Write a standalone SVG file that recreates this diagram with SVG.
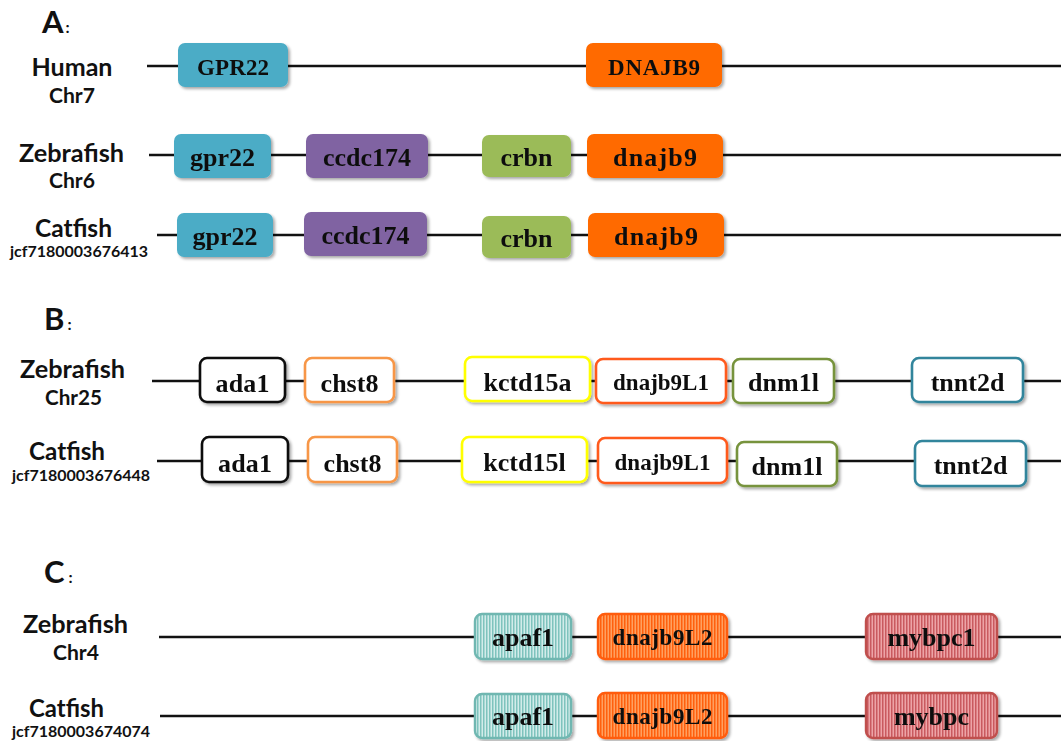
<svg xmlns="http://www.w3.org/2000/svg" width="1061" height="741" viewBox="0 0 1061 741">
<style>
.lbl{font-family:Lato,"Open Sans","Liberation Sans",sans-serif;font-weight:700;fill:#111;text-anchor:middle}
.big{font-size:25px}
.sm{font-size:20px}
.id{font-size:16px}
.ttl{font-family:Lato,"Open Sans","Liberation Sans",sans-serif;font-weight:700;fill:#111;font-size:31px}
.col{font-size:16px}
.g{font-family:"Liberation Serif","Times New Roman",serif;font-weight:700;fill:#111;text-anchor:middle;font-size:26px}
.g23{font-size:23px}
.chr{stroke:#111;stroke-width:2.6;fill:none}
.box{filter:url(#sh)}
.ob{fill:#fff;stroke-width:2.6}
</style>
<defs>
<filter id="sh" x="-10%" y="-20%" width="125%" height="150%">
<feGaussianBlur in="SourceAlpha" stdDeviation="1.6"/>
<feOffset dx="1.5" dy="2" result="o"/>
<feComponentTransfer><feFuncA type="linear" slope="0.35"/></feComponentTransfer>
<feMerge><feMergeNode/><feMergeNode in="SourceGraphic"/></feMerge>
</filter>
<pattern id="pTeal" width="3" height="10" patternUnits="userSpaceOnUse">
<rect width="3" height="10" fill="#D2ECEA"/><rect width="1.5" height="10" fill="#7EC3BD"/>
</pattern>
<pattern id="pOr" width="3" height="10" patternUnits="userSpaceOnUse">
<rect width="3" height="10" fill="#FFA060"/><rect width="1.5" height="10" fill="#FF6010"/>
</pattern>
<pattern id="pRed" width="3" height="10" patternUnits="userSpaceOnUse">
<rect width="3" height="10" fill="#EDA4A7"/><rect width="1.5" height="10" fill="#C95A5F"/>
</pattern>
</defs>
<rect width="1061" height="741" fill="#fff"/>

<!-- Titles and labels -->
<g id="titles">
<text class="ttl" x="42" y="33">A<tspan class="col" dx="2">:</tspan></text>
<text class="ttl" x="44" y="330">B<tspan class="col" dx="3">:</tspan></text>
<text class="ttl" x="44" y="583">C<tspan class="col" dx="4">:</tspan></text>
</g>
<g id="labels">
<text class="lbl big" x="72" y="76" textLength="81" lengthAdjust="spacingAndGlyphs">Human</text>
<text class="lbl sm" x="72" y="103" textLength="46" lengthAdjust="spacingAndGlyphs">Chr7</text>
<text class="lbl big" x="71.5" y="162" textLength="105" lengthAdjust="spacingAndGlyphs">Zebrafish</text>
<text class="lbl sm" x="72" y="188" textLength="46" lengthAdjust="spacingAndGlyphs">Chr6</text>
<text class="lbl big" x="73.5" y="237" textLength="77" lengthAdjust="spacingAndGlyphs">Catfish</text>
<text class="lbl id" x="79" y="257" textLength="138" lengthAdjust="spacingAndGlyphs">jcf7180003676413</text>

<text class="lbl big" x="72.5" y="378" textLength="105" lengthAdjust="spacingAndGlyphs">Zebrafish</text>
<text class="lbl sm" x="73.5" y="405" textLength="57" lengthAdjust="spacingAndGlyphs">Chr25</text>
<text class="lbl big" x="67" y="460" textLength="76" lengthAdjust="spacingAndGlyphs">Catfish</text>
<text class="lbl id" x="81" y="481" textLength="138" lengthAdjust="spacingAndGlyphs">jcf7180003676448</text>

<text class="lbl big" x="75.5" y="633" textLength="105" lengthAdjust="spacingAndGlyphs">Zebrafish</text>
<text class="lbl sm" x="76" y="660" textLength="46" lengthAdjust="spacingAndGlyphs">Chr4</text>
<text class="lbl big" x="66.5" y="717" textLength="75" lengthAdjust="spacingAndGlyphs">Catfish</text>
<text class="lbl id" x="81" y="737" textLength="138" lengthAdjust="spacingAndGlyphs">jcf7180003674074</text>
</g>

<!-- chromosome lines -->
<g id="connectors">
<line class="chr" x1="147" y1="66" x2="1061" y2="66"/>
<line class="chr" x1="149" y1="155" x2="1061" y2="155"/>
<line class="chr" x1="157" y1="235" x2="1061" y2="235"/>
<line class="chr" x1="152" y1="381" x2="1061" y2="381"/>
<line class="chr" x1="157" y1="461" x2="1061" y2="461"/>
<line class="chr" x1="159" y1="637" x2="1061" y2="637"/>
<line class="chr" x1="160" y1="716" x2="1061" y2="716"/>
</g>

<!-- Panel A -->
<g id="A-human-GPR22" class="box"><rect x="178" y="43" width="110" height="44" rx="7" fill="#4BACC6"/><text class="g g23" x="233" y="75" textLength="72">GPR22</text></g>
<g id="A-human-DNAJB9" class="box"><rect x="586" y="43" width="136" height="44" rx="7" fill="#FF6A00"/><text class="g g23" x="654" y="75" textLength="92">DNAJB9</text></g>

<g id="A-zf-gpr22" class="box"><rect x="174" y="134" width="97" height="44" rx="7" fill="#4BACC6"/><text class="g" x="222.5" y="166">gpr22</text></g>
<g id="A-zf-ccdc174" class="box"><rect x="306" y="134" width="122" height="44" rx="7" fill="#8064A2"/><text class="g" x="367" y="166">ccdc174</text></g>
<g id="A-zf-crbn" class="box"><rect x="482" y="135" width="89" height="42" rx="7" fill="#9BBB59"/><text class="g" x="526.5" y="166">crbn</text></g>
<g id="A-zf-dnajb9" class="box"><rect x="587" y="134" width="136" height="44" rx="7" fill="#FF6A00"/><text class="g" x="655" y="166" textLength="84">dnajb9</text></g>

<g id="A-cf-gpr22" class="box"><rect x="177" y="213" width="96" height="44" rx="7" fill="#4BACC6"/><text class="g" x="225" y="245">gpr22</text></g>
<g id="A-cf-ccdc174" class="box"><rect x="304" y="212" width="123" height="44" rx="7" fill="#8064A2"/><text class="g" x="365.5" y="244">ccdc174</text></g>
<g id="A-cf-crbn" class="box"><rect x="482" y="216" width="89" height="42" rx="7" fill="#9BBB59"/><text class="g" x="526.5" y="247">crbn</text></g>
<g id="A-cf-dnajb9" class="box"><rect x="588" y="213" width="136" height="44" rx="7" fill="#FF6A00"/><text class="g" x="656" y="245" textLength="84">dnajb9</text></g>

<!-- Panel B -->
<g id="B-zf-ada1" class="box"><rect class="ob" x="200" y="358" width="85" height="44" rx="7" stroke="#111"/><text class="g" x="242.5" y="392" textLength="54">ada1</text></g>
<g id="B-zf-chst8" class="box"><rect class="ob" x="305" y="358" width="89" height="44" rx="7" stroke="#F79646"/><text class="g" x="349.5" y="392">chst8</text></g>
<g id="B-zf-kctd15a" class="box"><rect class="ob" x="465" y="357" width="125" height="44" rx="7" stroke="#FFFF00"/><text class="g" x="527.5" y="391">kctd15a</text></g>
<g id="B-zf-dnajb9L1" class="box"><rect class="ob" x="596" y="359" width="130" height="44" rx="7" stroke="#FF5A1F"/><text class="g g23" x="661" y="390">dnajb9L1</text></g>
<g id="B-zf-dnm1l" class="box"><rect class="ob" x="733" y="359" width="101" height="44" rx="7" stroke="#77933C"/><text class="g" x="783.5" y="391">dnm1l</text></g>
<g id="B-zf-tnnt2d" class="box"><rect class="ob" x="912" y="358" width="111" height="44" rx="7" stroke="#31859C"/><text class="g" x="967.5" y="391">tnnt2d</text></g>

<g id="B-cf-ada1" class="box"><rect class="ob" x="202" y="437" width="86" height="45" rx="7" stroke="#111"/><text class="g" x="245" y="472" textLength="54">ada1</text></g>
<g id="B-cf-chst8" class="box"><rect class="ob" x="308" y="437" width="89" height="45" rx="7" stroke="#F79646"/><text class="g" x="352.5" y="472">chst8</text></g>
<g id="B-cf-kctd15l" class="box"><rect class="ob" x="462" y="437" width="125" height="45" rx="7" stroke="#FFFF00"/><text class="g" x="524.5" y="471">kctd15l</text></g>
<g id="B-cf-dnajb9L1" class="box"><rect class="ob" x="598" y="438" width="129" height="45" rx="7" stroke="#FF5A1F"/><text class="g g23" x="662.5" y="470">dnajb9L1</text></g>
<g id="B-cf-dnm1l" class="box"><rect class="ob" x="737" y="442" width="100" height="44" rx="7" stroke="#77933C"/><text class="g" x="787" y="475">dnm1l</text></g>
<g id="B-cf-tnnt2d" class="box"><rect class="ob" x="915" y="441" width="111" height="45" rx="7" stroke="#31859C"/><text class="g" x="970.5" y="474">tnnt2d</text></g>

<!-- Panel C -->
<g id="C-zf-apaf1" class="box"><rect x="475" y="614" width="96" height="45" rx="7" fill="url(#pTeal)" stroke="#6FB7B1" stroke-width="2.4"/><text class="g" x="523" y="646">apaf1</text></g>
<g id="C-zf-dnajb9L2" class="box"><rect x="598" y="614" width="129" height="45" rx="7" fill="url(#pOr)" stroke="#FF5B0F" stroke-width="2.4"/><text class="g g23" x="662.5" y="645" textLength="100">dnajb9L2</text></g>
<g id="C-zf-mybpc1" class="box"><rect x="866" y="614" width="131" height="45" rx="7" fill="url(#pRed)" stroke="#C0504D" stroke-width="2.4"/><text class="g" x="931.5" y="646">mybpc1</text></g>

<g id="C-cf-apaf1" class="box"><rect x="475" y="694" width="96" height="44" rx="7" fill="url(#pTeal)" stroke="#6FB7B1" stroke-width="2.4"/><text class="g" x="523" y="725">apaf1</text></g>
<g id="C-cf-dnajb9L2" class="box"><rect x="598" y="693" width="129" height="45" rx="7" fill="url(#pOr)" stroke="#FF5B0F" stroke-width="2.4"/><text class="g g23" x="662.5" y="724" textLength="100">dnajb9L2</text></g>
<g id="C-cf-mybpc" class="box"><rect x="866" y="693" width="131" height="45" rx="7" fill="url(#pRed)" stroke="#C0504D" stroke-width="2.4"/><text class="g" x="931.5" y="725">mybpc</text></g>
</svg>
